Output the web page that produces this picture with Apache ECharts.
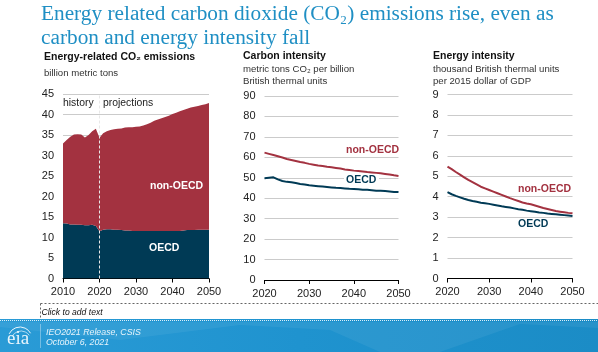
<!DOCTYPE html>
<html>
<head>
<meta charset="utf-8">
<title>Energy related carbon dioxide emissions</title>
<style>
  html, body { margin: 0; padding: 0; background: #fff; }
  #chart { width: 598px; height: 352px; }
</style>
<script src="https://cdn.jsdelivr.net/npm/echarts@6/dist/echarts.min.js"></script>
</head>
<body>
<div id="chart"></div>
<script>
const historyYears = [2010, 2011, 2012, 2013, 2014, 2015, 2016, 2017, 2018, 2019, 2020, 2021, 2022, 2023, 2024, 2025, 2026, 2027, 2028, 2029, 2030, 2031, 2032, 2033, 2034, 2035, 2036, 2037, 2038, 2039, 2040, 2041, 2042, 2043, 2044, 2045, 2046, 2047, 2048, 2049, 2050]
const projectionYears = [2020, 2021, 2022, 2023, 2024, 2025, 2026, 2027, 2028, 2029, 2030, 2031, 2032, 2033, 2034, 2035, 2036, 2037, 2038, 2039, 2040, 2041, 2042, 2043, 2044, 2045, 2046, 2047, 2048, 2049, 2050]

const emissionsOecd = [13.5, 13.4, 13.2, 13.2, 13.1, 13.1, 13.0, 13.0, 13.1, 12.8, 11.5, 11.9, 12.0, 12.0, 11.9, 11.9, 11.8, 11.7, 11.7, 11.6, 11.6, 11.6, 11.6, 11.6, 11.6, 11.6, 11.6, 11.6, 11.6, 11.6, 11.6, 11.6, 11.6, 11.7, 11.8, 11.8, 11.8, 11.9, 11.9, 11.9, 11.9]
const emissionsNonOecd = [19.4, 20.4, 21.4, 21.9, 22.1, 22.0, 21.4, 22.0, 22.8, 23.7, 22.8, 23.5, 23.9, 24.2, 24.5, 24.6, 24.8, 25.1, 25.2, 25.3, 25.4, 25.5, 25.7, 26.0, 26.4, 26.9, 27.2, 27.5, 27.8, 28.1, 28.5, 28.8, 29.2, 29.4, 29.6, 29.9, 30.1, 30.2, 30.4, 30.6, 30.9]

const carbonOecd = [49.8, 50.0, 50.2, 49.2, 48.4, 48.0, 47.8, 47.4, 47.0, 46.7, 46.3, 46.1, 45.9, 45.7, 45.5, 45.3, 45.1, 45.0, 44.8, 44.6, 44.5, 44.4, 44.2, 44.1, 43.9, 43.7, 43.6, 43.5, 43.3, 43.1, 43.0]
const carbonNonOecd = [62.3, 61.7, 61.1, 60.5, 59.9, 59.2, 58.7, 58.2, 57.7, 57.3, 56.8, 56.4, 56.0, 55.8, 55.4, 55.1, 54.8, 54.5, 54.1, 53.8, 53.5, 53.3, 53.1, 52.8, 52.6, 52.4, 52.2, 51.9, 51.6, 51.2, 50.9]

const energyOecd = [4.22, 4.12, 4.04, 3.97, 3.90, 3.84, 3.79, 3.75, 3.71, 3.68, 3.65, 3.61, 3.57, 3.53, 3.50, 3.47, 3.43, 3.39, 3.36, 3.32, 3.29, 3.26, 3.23, 3.21, 3.18, 3.16, 3.14, 3.12, 3.10, 3.08, 3.06]
const energyNonOecd = [5.47, 5.35, 5.21, 5.08, 4.95, 4.82, 4.71, 4.60, 4.49, 4.41, 4.33, 4.25, 4.17, 4.09, 4.01, 3.93, 3.86, 3.79, 3.72, 3.67, 3.63, 3.57, 3.51, 3.45, 3.40, 3.35, 3.30, 3.27, 3.24, 3.21, 3.19]

const RED = '#a33240'
const NAVY = '#003a55'
const GRID = '#cbcbcb'
const LABEL = '#222222'
const SANS = '"Liberation Sans", Arial, sans-serif'
const SERIF = '"Liberation Serif", "Times New Roman", serif'

const chart = echarts.init(document.getElementById('chart'), null, { renderer: 'canvas' })

function makeXAxis(gridIndex, years) {
  return {
    type: 'category',
    gridIndex,
    data: years,
    boundaryGap: false,
    axisLine: { show: true, onZero: false, lineStyle: { color: '#000', width: 1 } },
    axisTick: { show: true, alignWithLabel: true, interval: 9, length: 4, lineStyle: { color: '#000' } },
    axisLabel: { interval: 9, color: LABEL, fontFamily: SANS, fontSize: 11, margin: 8, showMinLabel: true, showMaxLabel: true },
    splitLine: { show: false }
  }
}

function makeYAxis(gridIndex, max, interval) {
  return {
    type: 'value',
    gridIndex,
    min: 0,
    max,
    interval,
    axisLine: { show: false },
    axisTick: { show: false },
    axisLabel: { color: LABEL, fontFamily: SANS, fontSize: 11, margin: 9 },
    splitLine: { show: true, lineStyle: { color: GRID, width: 1 } }
  }
}

function makeLine(name, xAxisIndex, values, color) {
  return {
    name,
    type: 'line',
    xAxisIndex,
    yAxisIndex: xAxisIndex,
    data: values,
    showSymbol: false,
    smooth: false,
    lineStyle: { color, width: 2 },
    itemStyle: { color }
  }
}

function text(x, y, str, fontSize, fill, extra) {
  return {
    type: 'text',
    x,
    y,
    z: 20,
    silent: true,
    style: Object.assign({ text: str, fontSize, fill, fontFamily: SANS, textVerticalAlign: 'middle' }, extra || {})
  }
}

const option = {
  animation: false,
  backgroundColor: '#fff',
  grid: [
    { left: 63, right: 389, top: 94, height: 184.5 },
    { left: 264.5, right: 199.5, top: 96, height: 184 },
    { left: 447.5, right: 25.5, top: 94.5, height: 184 }
  ],
  xAxis: [makeXAxis(0, historyYears), makeXAxis(1, projectionYears), makeXAxis(2, projectionYears)],
  yAxis: [makeYAxis(0, 45, 5), makeYAxis(1, 90, 10), makeYAxis(2, 9, 1)],
  series: [
    {
      name: 'OECD',
      type: 'line',
      xAxisIndex: 0,
      yAxisIndex: 0,
      stack: 'emissions',
      data: emissionsOecd,
      showSymbol: false,
      lineStyle: { width: 0 },
      itemStyle: { color: NAVY },
      areaStyle: { color: NAVY, opacity: 1 }
    },
    {
      name: 'non-OECD',
      type: 'line',
      xAxisIndex: 0,
      yAxisIndex: 0,
      stack: 'emissions',
      data: emissionsNonOecd,
      showSymbol: false,
      lineStyle: { width: 0 },
      itemStyle: { color: RED },
      areaStyle: { color: RED, opacity: 1 },
      markLine: {
        silent: true,
        symbol: 'none',
        label: { show: false },
        lineStyle: { color: '#e8e8e8', type: [3, 2], width: 1 },
        data: [{ xAxis: '2020' }]
      }
    },
    makeLine('OECD', 1, carbonOecd, NAVY),
    makeLine('non-OECD', 1, carbonNonOecd, RED),
    makeLine('OECD', 2, energyOecd, NAVY),
    makeLine('non-OECD', 2, energyNonOecd, RED)
  ],
  graphic: [
    // headline
    text(41, 14, 'Energy related carbon dioxide (CO₂) emissions rise, even as', 21.3, '#1f8fc4', { fontFamily: SERIF }),
    text(41, 38, 'carbon and energy intensity fall', 21.3, '#1f8fc4', { fontFamily: SERIF }),

    // panel headings
    text(44, 57, 'Energy-related CO₂ emissions', 10.5, '#111', { fontWeight: 'bold' }),
    text(44, 73, 'billion metric tons', 9.6, '#333'),
    text(243, 56, 'Carbon intensity', 10.5, '#111', { fontWeight: 'bold' }),
    text(243, 69, 'metric tons CO₂ per billion', 9.6, '#333'),
    text(243, 81, 'British thermal units', 9.6, '#333'),
    text(433, 56, 'Energy intensity', 10.5, '#111', { fontWeight: 'bold' }),
    text(433, 69, 'thousand British thermal units', 9.6, '#333'),
    text(433, 81, 'per 2015 dollar of GDP', 9.6, '#333'),

    // annotations
    text(63, 103, 'history', 10.4, '#222'),
    text(103, 103, 'projections', 10.4, '#222'),
    text(150, 186, 'non-OECD', 10.5, '#fff', { fontWeight: 'bold' }),
    text(149, 248, 'OECD', 10.5, '#fff', { fontWeight: 'bold' }),
    text(346, 150, 'non-OECD', 10.5, RED, { fontWeight: 'bold' }),
    // white patch so the 50 gridline doesn't strike through the label
    { type: 'rect', z: 15, silent: true, shape: { x: 344, y: 174, width: 35, height: 11 }, style: { fill: '#fff' } },
    text(346, 180, 'OECD', 10.5, NAVY, { fontWeight: 'bold' }),
    text(518, 189, 'non-OECD', 10.5, RED, { fontWeight: 'bold' }),
    text(518, 224, 'OECD', 10.5, NAVY, { fontWeight: 'bold' }),

    // placeholder box
    { type: 'line', silent: true, shape: { x1: 40.5, y1: 303.5, x2: 598, y2: 303.5 }, style: { stroke: '#666', lineWidth: 1, lineDash: [2, 2] } },
    { type: 'line', silent: true, shape: { x1: 40.5, y1: 303.5, x2: 40.5, y2: 319 }, style: { stroke: '#666', lineWidth: 1, lineDash: [2, 2] } },
    text(41.5, 313, 'Click to add text', 8.6, '#111', { fontStyle: 'italic' }),

    // footer band
    {
      type: 'rect',
      silent: true,
      shape: { x: 0, y: 319, width: 598, height: 33 },
      style: {
        fill: new echarts.graphic.LinearGradient(0, 0, 1, 0, [
          { offset: 0, color: '#2a9bd6' },
          { offset: 0.5, color: '#1f93cf' },
          { offset: 1, color: '#1b8cc6' }
        ])
      }
    },
    { type: 'polygon', silent: true, shape: { points: [[0, 322], [598, 322], [598, 328], [520, 324], [440, 352], [380, 352], [330, 330], [240, 325], [120, 340], [0, 327]] }, style: { fill: '#fff', opacity: 0.06 } },
    { type: 'line', silent: true, shape: { x1: 0, y1: 320.5, x2: 598, y2: 320.5 }, style: { stroke: '#fff', lineWidth: 1, lineDash: [1, 1], opacity: 0.85 } },
    { type: 'line', silent: true, shape: { x1: 40.5, y1: 324, x2: 40.5, y2: 348 }, style: { stroke: '#fff', lineWidth: 1, opacity: 0.35 } },
    text(7, 339, 'eia', 19, '#e8f5fc', { fontFamily: SERIF }),
    { type: 'arc', silent: true, shape: { cx: 20, cy: 339, r: 12, startAngle: -2.7, endAngle: -0.5 }, style: { stroke: '#e8f5fc', fill: 'none', lineWidth: 1 } },
    { type: 'arc', silent: true, shape: { cx: 21, cy: 341, r: 10, startAngle: -2.7, endAngle: -0.6 }, style: { stroke: '#e8f5fc', fill: 'none', lineWidth: 1, opacity: 0.7 } },
    text(46, 332.5, 'IEO2021 Release, CSIS', 8.8, '#e6f4fb', { fontStyle: 'italic' }),
    text(46, 342.5, 'October 6, 2021', 8.8, '#e6f4fb', { fontStyle: 'italic' })
  ]
}

chart.setOption(option)
</script>
</body>
</html>
